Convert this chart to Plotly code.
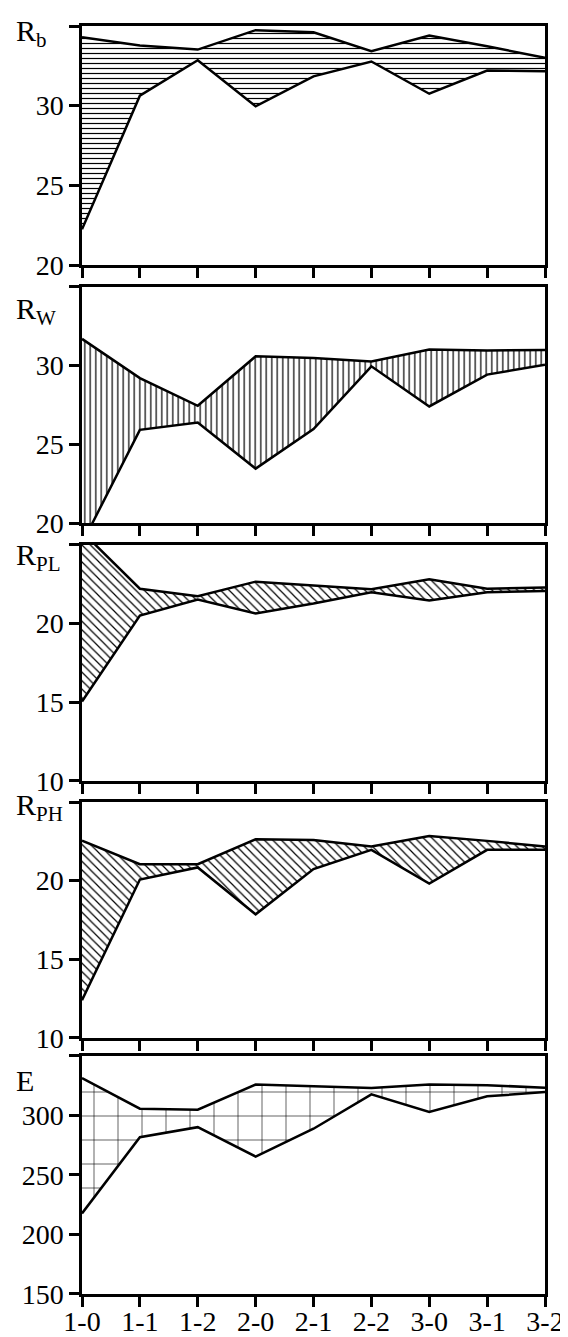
import plotly.graph_objects as go

categories = ["1-0", "1-1", "1-2", "2-0", "2-1", "2-2", "3-0", "3-1", "3-2"]

rb_upper = [34.3, 33.77, 33.52, 34.74, 34.61, 33.42, 34.40, 33.73, 33.0]
rb_lower = [22.24, 30.63, 32.85, 29.96, 31.84, 32.77, 30.75, 32.2, 32.16]

rw_upper = [31.70, 29.21, 27.45, 30.59, 30.49, 30.27, 31.02, 30.96, 31.0]
rw_lower = [18.7, 25.92, 26.39, 23.46, 25.97, 29.96, 27.41, 29.43, 30.06]

rpl_upper = [25.85, 22.22, 21.75, 22.67, 22.43, 22.18, 22.82, 22.22, 22.29]
rpl_lower = [15.05, 20.52, 21.54, 20.65, 21.28, 22.0, 21.48, 22.0, 22.07]

rph_upper = [22.55, 21.05, 21.05, 22.63, 22.59, 22.17, 22.84, 22.53, 22.17]
rph_lower = [12.4, 20.07, 20.84, 17.86, 20.74, 21.96, 19.82, 21.96, 21.96]

e_upper = [331.5, 305.7, 304.9, 326.0, 324.5, 323.1, 326.0, 325.4, 323.4]
e_lower = [217.7, 281.8, 290.2, 265.5, 288.9, 317.8, 302.9, 316.1, 319.7]

panel_labels = ["R<sub>b</sub>", "R<sub>W</sub>", "R<sub>PL</sub>", "R<sub>PH</sub>", "E"]
y_ranges = [[20, 35], [20, 35], [10, 25], [10, 25], [150, 350]]
y_tickvals = [[20, 25, 30, 35], [20, 25, 30, 35], [10, 15, 20, 25], [10, 15, 20, 25],
              [150, 200, 250, 300, 350]]
y_ticktext = [["20", "25", "30", ""], ["20", "25", "30", ""], ["10", "15", "20", ""],
              ["10", "15", "20", ""], ["150", "200", "250", "300", ""]]

uppers = [rb_upper, rw_upper, rpl_upper, rph_upper, e_upper]
lowers = [rb_lower, rw_lower, rpl_lower, rph_lower, e_lower]

patterns = [
    dict(shape="-", size=5, solidity=0.24),
    dict(shape="|", size=5.5, solidity=0.22),
    dict(shape="\\", size=6, solidity=0.2),
    dict(shape="\\", size=6, solidity=0.2),
    dict(shape="+", size=24, solidity=0.05),
]

domains = [[0.8115, 1.0], [0.6080, 0.7942], [0.4046, 0.5907], [0.2019, 0.3880], [0.0, 0.1877]]
label_shift = [14, -3, 9, 16, -6]

font_family = "Liberation Serif"
fig = go.Figure()

for k in range(5):
    n = k + 1
    xa = "x" if n == 1 else f"x{n}"
    ya = "y" if n == 1 else f"y{n}"
    fig.add_trace(go.Scatter(
        x=categories, y=lowers[k], mode="lines",
        line=dict(color="black", width=2.5),
        xaxis=xa, yaxis=ya, showlegend=False, hoverinfo="skip"))
    p = patterns[k]
    fig.add_trace(go.Scatter(
        x=categories, y=uppers[k], mode="lines",
        line=dict(color="black", width=2.5),
        fill="tonexty", fillcolor="rgba(255,255,255,0)",
        fillpattern=dict(shape=p["shape"], size=p["size"], solidity=p["solidity"],
                         fgcolor="black", bgcolor="rgba(255,255,255,0)", fgopacity=1),
        xaxis=xa, yaxis=ya, showlegend=False, hoverinfo="skip"))

    axis_common = dict(
        showline=True, mirror=True, linecolor="black", linewidth=2.5,
        ticks="outside", ticklen=10, tickwidth=2.5, tickcolor="black",
        showgrid=False, zeroline=False, automargin=False,
        tickfont=dict(family=font_family, size=28, color="black"),
    )
    fig.layout[f"xaxis{'' if n == 1 else n}"] = dict(
        domain=[0, 1], anchor=ya, type="category", range=[0, 8],
        showticklabels=(n == 5), ticklabelstandoff=-9, **axis_common)
    fig.layout[f"yaxis{'' if n == 1 else n}"] = dict(
        domain=domains[k], anchor=xa, range=y_ranges[k],
        tickmode="array", tickvals=y_tickvals[k], ticktext=y_ticktext[k],
        **axis_common)

    fig.add_annotation(
        text=panel_labels[k], xref="paper", yref=f"{ya} domain",
        x=-0.1458, y=1, xanchor="left", yanchor="top", yshift=label_shift[k],
        showarrow=False, font=dict(family=font_family, size=30, color="black"))

# The page body adds an 8 px margin, so the figure is sized to fit the window.
fig.update_layout(
    width=560, height=1329,
    margin=dict(l=74, r=23, t=18, b=43),
    paper_bgcolor="white", plot_bgcolor="white",
)

fig.write_html("out.html")
